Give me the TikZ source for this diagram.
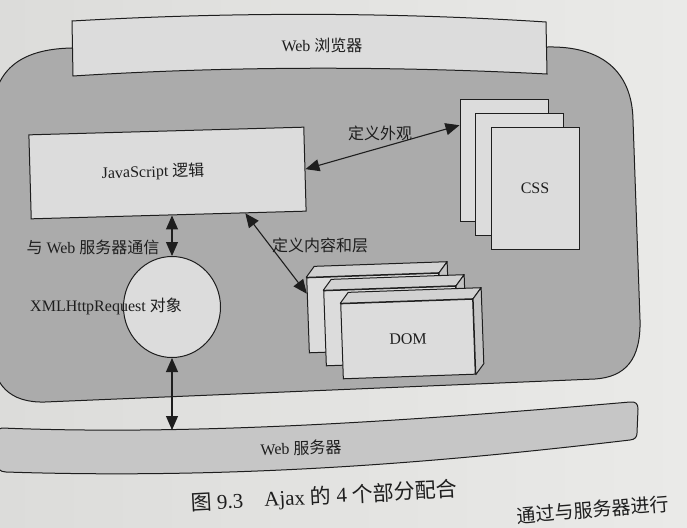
\documentclass[tikz,border=0pt]{standalone}
\usepackage{fontspec}
\setmainfont{Liberation Serif}
\newfontfamily\cjk{Noto Sans CJK SC}
\usetikzlibrary{arrows.meta,shapes.geometric,calc}
\definecolor{paperL}{HTML}{DCDCDA}
\definecolor{paperR}{HTML}{EAEAE8}
\definecolor{regiongrey}{HTML}{ABABAB}
\definecolor{boxfill}{HTML}{DCDCDC}
\definecolor{srvfill}{HTML}{C6C6C6}
\definecolor{domtop}{HTML}{D2D2D2}
\definecolor{domside}{HTML}{C4C4C4}
\definecolor{ink}{HTML}{1E1E1E}
\tikzset{
  outline/.style={draw=ink, line width=1pt},
  boxnode/.style={outline, fill=boxfill, inner sep=0pt},
  pagebox/.style={boxnode, minimum width=88pt, minimum height=122pt},
  dombox/.style={boxnode, minimum width=132pt, minimum height=75pt, rotate=2},
  face/.style={outline, line join=round},
  lbl/.style={inner sep=1pt, text=ink},
  dbl/.style={draw=ink, line width=1.1pt, {Triangle[length=14pt,width=12pt]}-{Triangle[length=14pt,width=12pt]}}
}
\newcommand\mydombox[3]{%
  \node[dombox] (#1) at (#2) {#3};
  \draw[face, fill=domtop] (#1.north west) -- ($(#1.north west)+(8,-11)$) -- ($(#1.north east)+(8,-11)$) -- (#1.north east) -- cycle;
  \draw[face, fill=domside] (#1.north east) -- ($(#1.north east)+(8,-11)$) -- ($(#1.south east)+(8,-11)$) -- (#1.south east) -- cycle;
}
\begin{document}
\begin{tikzpicture}[x=1pt,y=-1pt, font=\fontsize{16}{19}\selectfont]
\useasboundingbox (0,0) rectangle (687,527);
\shade[left color=paperL, right color=paperR] (0,0) rectangle (687,527);

% browser region
\path[outline, fill=regiongrey]
  (-8,300) -- (-8,120) .. controls (-8,70) and (20,49) .. (72,48)
  -- (548,47) .. controls (600,46) and (632,70) .. (633,120)
  -- (640,320) .. controls (641,360) and (625,377) .. (595,379)
  -- (45,402) .. controls (10,403) and (-8,385) .. (-8,350) -- cycle;

% top bar
\path[outline, fill=boxfill]
  (72,21) .. controls (230,12) and (390,12) .. (546,22)
  -- (547,74) .. controls (390,66) and (230,66) .. (73,76) -- cycle;
\node[lbl] (browser) at (322,45) {Web {\cjk 浏览器}};

% server bar
\path[outline, fill=srvfill]
  (2,428) .. controls (200,436) and (420,420) .. (630,402)
  .. controls (636,401.5) and (638,404) .. (638,409)
  -- (637,433) .. controls (637,437) and (635,439.5) .. (630,440)
  .. controls (460,460) and (250,480) .. (6,472)
  .. controls (0,472) and (-4,468) .. (-4,462)
  -- (-4,434) .. controls (-4,430) and (-1,428) .. (2,428) -- cycle;
\node[lbl, rotate=1.5] (server) at (301,448) {Web {\cjk 服务器}};
\coordinate (srvtop) at (172,430);

% JavaScript box
\node[boxnode, minimum width=275pt, minimum height=84pt, rotate=1.6] (js) at (167.5,173) {};
\node[lbl, rotate=1.6] (jst) at (153,172) {JavaScript {\cjk 逻辑}};

% CSS pages
\node[pagebox] (css1) at (504,160) {};
\node[pagebox] (css2) at (519,174) {};
\node[pagebox, text=ink] (css3) at (535,188) {CSS};

% DOM boxes
\mydombox{dom1}{374,313}{}
\mydombox{dom2}{391,326}{}
\mydombox{dom3}{408,339}{\textcolor{ink}{DOM}}

% XMLHttpRequest
\node[boxnode, ellipse, minimum width=97pt, minimum height=101pt] (xr) at (172,307) {};
\node[lbl] (xrl) at (106,306) {XMLHttpRequest {\cjk 对象}};

% connectors
\draw[dbl] (js.east) -- (css1.142);
\draw[dbl] (js.-29) -- (dom1.162);
\draw[dbl] (xr.north |- js.south) -- (xr.north);
\draw[dbl] (xr.south) -- (srvtop);

% labels
\node[lbl] (l1) at (93,247) {{\cjk 与} Web {\cjk 服务器通信}};
\node[lbl] (l2) at (320,245) {\cjk 定义内容和层};
\node[lbl] (l3) at (380,133) {\cjk 定义外观};

% caption
\node[lbl, rotate=3, font=\fontsize{21}{25}\selectfont] (cap) at (324,497) {{\cjk 图} 9.3\quad Ajax {\cjk 的} 4 {\cjk 个部分配合}};
\node[lbl, rotate=4.7, anchor=west, font=\fontsize{19}{22}\selectfont] (frag) at (516,516) {\cjk 通过与服务器进行};
\end{tikzpicture}
\end{document}
